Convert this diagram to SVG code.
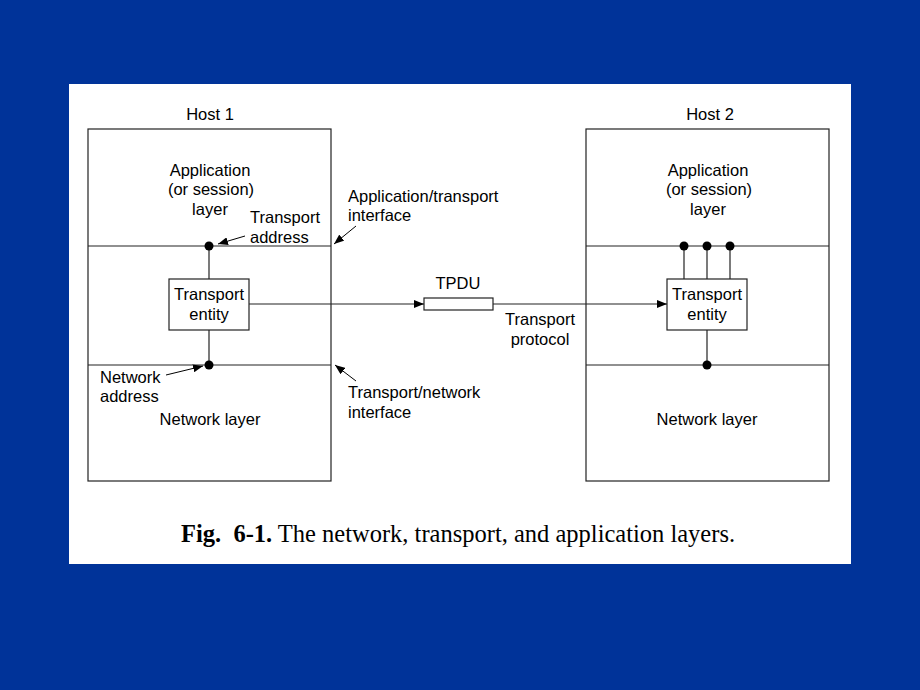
<svg xmlns="http://www.w3.org/2000/svg" width="920" height="690" viewBox="0 0 920 690">
<defs>
<marker id="ah" markerWidth="10" markerHeight="8" refX="10" refY="4" orient="auto" markerUnits="userSpaceOnUse">
<path d="M0,0 L10,4 L0,8 Z" fill="#000"/>
</marker>
</defs>
<style>
.ln{stroke:#222;stroke-width:1.2;fill:none}
.bx{stroke:#222;stroke-width:1.2;fill:#fff}
.t{font-family:"Liberation Sans",Arial,sans-serif;font-size:16.5px;fill:#000}
.c{text-anchor:middle}
.dot{fill:#000}
.arr{stroke:#000;stroke-width:1;fill:none;marker-end:url(#ah)}
</style>
<rect x="0" y="0" width="920" height="690" fill="#003399"/>
<rect x="69" y="84" width="782" height="480" fill="#fff"/>

<g id="host1">
<rect class="bx" x="88" y="129" width="243" height="352"/>
<line class="ln" x1="88" y1="246" x2="331" y2="246"/>
<line class="ln" x1="88" y1="365" x2="331" y2="365"/>
<text class="t c" x="210" y="120">Host 1</text>
<text class="t c" x="210" y="176">Application</text>
<text class="t c" x="211" y="195">(or session)</text>
<text class="t c" x="210" y="215">layer</text>
<text class="t c" x="210" y="425">Network layer</text>
</g>

<g id="entity1">
<rect class="bx" x="169" y="279" width="80" height="51"/>
<text class="t c" x="209" y="300">Transport</text>
<text class="t c" x="209" y="320">entity</text>
</g>

<g id="host2">
<rect class="bx" x="586" y="129" width="243" height="352"/>
<line class="ln" x1="586" y1="246" x2="829" y2="246"/>
<line class="ln" x1="586" y1="365" x2="829" y2="365"/>
<text class="t c" x="710" y="120">Host 2</text>
<text class="t c" x="708" y="176">Application</text>
<text class="t c" x="709" y="195">(or session)</text>
<text class="t c" x="708" y="215">layer</text>
<text class="t c" x="707" y="425">Network layer</text>
</g>

<g id="entity2">
<rect class="bx" x="667" y="279" width="80" height="51"/>
<text class="t c" x="707" y="300">Transport</text>
<text class="t c" x="707" y="320">entity</text>
</g>

<g id="tpdu">
<rect class="bx" x="424" y="298" width="69" height="12"/>
<text class="t c" x="458" y="289">TPDU</text>
</g>

<g id="connectors">
<line class="ln" x1="209" y1="246" x2="209" y2="279"/>
<line class="ln" x1="209" y1="330" x2="209" y2="365"/>
<line class="ln" x1="684" y1="246" x2="684" y2="279"/>
<line class="ln" x1="707" y1="246" x2="707" y2="279"/>
<line class="ln" x1="730" y1="246" x2="730" y2="279"/>
<line class="ln" x1="707" y1="330" x2="707" y2="365"/>
<circle class="dot" cx="209" cy="246" r="4.5"/>
<circle class="dot" cx="209" cy="365" r="4.5"/>
<circle class="dot" cx="684" cy="246" r="4.5"/>
<circle class="dot" cx="707" cy="246" r="4.5"/>
<circle class="dot" cx="730" cy="246" r="4.5"/>
<circle class="dot" cx="707" cy="365" r="4.5"/>
<line class="ln" x1="249" y1="304" x2="424" y2="304" marker-end="url(#ah)"/>
<line class="ln" x1="493" y1="304" x2="667" y2="304" marker-end="url(#ah)"/>
<line class="arr" x1="245" y1="236" x2="218" y2="244"/>
<line class="arr" x1="356" y1="226" x2="334" y2="244"/>
<line class="arr" x1="356" y1="381" x2="335" y2="365"/>
<line class="arr" x1="166" y1="375" x2="203" y2="366"/>
</g>

<g id="labels">
<text class="t" x="250" y="223">Transport</text>
<text class="t" x="250" y="243">address</text>
<text class="t" x="348" y="202">Application/transport</text>
<text class="t" x="348" y="221">interface</text>
<text class="t" x="348" y="398">Transport/network</text>
<text class="t" x="348" y="418">interface</text>
<text class="t" x="100" y="383">Network</text>
<text class="t" x="100" y="402">address</text>
<text class="t c" x="540" y="325">Transport</text>
<text class="t c" x="540" y="345">protocol</text>
</g>

<g id="caption">
<text x="181" y="542" xml:space="preserve" style="font-family:'Liberation Serif','Times New Roman',serif;font-size:24.5px;fill:#000"><tspan font-weight="bold">Fig.  6-1.</tspan> The network, transport, and application layers.</text>
</g>
</svg>
